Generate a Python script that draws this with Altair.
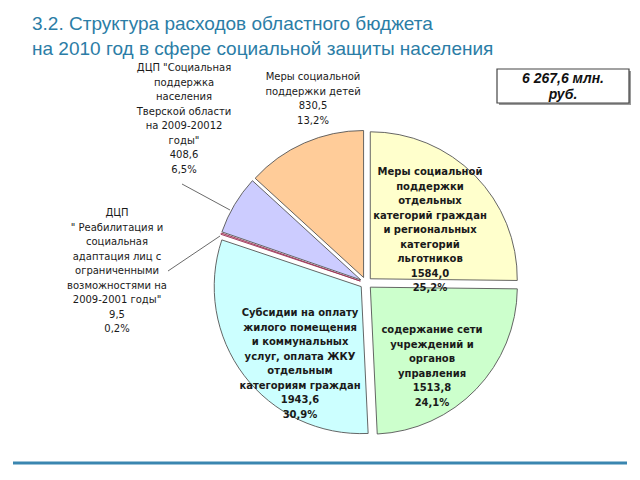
import altair as alt
import pandas as pd

# ---- data ----
categories = [
    "Меры социальной\nподдержки\nотдельных\nкатегорий граждан\nи региональных\nкатегорий\nльготников",
    "содержание сети\nучреждений и\nорганов\nуправления",
    "Субсидии на оплату\nжилого помещения\nи коммунальных\nуслуг, оплата ЖКУ\nотдельным\nкатегориям граждан",
    "ДЦП\n\" Реабилитация и\nсоциальная\nадаптация лиц с\nограниченными\nвозможностями на\n2009-2001 годы\"",
    "ДЦП \"Социальная\nподдержка\nнаселения\nТверской области\nна 2009-20012\nгоды\"",
    "Меры социальной\nподдержки детей",
]
values = [1584.0, 1513.8, 1943.6, 9.5, 408.6, 830.5]
value_labels = ["1584,0", "1513,8", "1943,6", "9,5", "408,6", "830,5"]
percents = ["25,2%", "24,1%", "30,9%", "0,2%", "6,5%", "13,2%"]
total_label = ["6 267,6 млн.", "руб."]
title_lines = ["3.2. Структура расходов областного бюджета",
               "на 2010 год в сфере социальной защиты населения"]

# ---- styles / layout ----
fills = ["#FFFFCC", "#CCFFCC", "#CCFFFF", "#E8A8C0", "#CCCCFF", "#FFCC99"]
strokes = ["#555555", "#555555", "#555555", "#993355", "#555555", "#555555"]
CX, CY, R, D = 366, 283, 147, 6
# label anchor (x centre, y of first line) and bold flag, in slice order
label_pos = [(430, 172, True), (432, 330, True), (300, 313, True),
             (117, 213, False), (184, 68, False), (313, 77, False)]

df = pd.DataFrame({"order": list(range(len(values))), "cat": categories, "value": values})

pie = (
    alt.Chart(df)
    .transform_joinaggregate(total="sum(value)")
    .transform_window(cum="sum(value)", sort=[alt.SortField("order")], frame=[None, 0])
    .transform_calculate(a1="datum.cum / datum.total * 2 * PI")
    .transform_calculate(a0="(datum.cum - datum.value) / datum.total * 2 * PI")
    .transform_calculate(mid="(datum.a0 + datum.a1) / 2")
    .transform_calculate(cx=f"{CX} + {D} * sin(datum.mid)")
    .transform_calculate(cy=f"{CY} - {D} * cos(datum.mid)")
    .mark_arc(outerRadius=R, strokeWidth=0.9)
    .encode(
        theta=alt.Theta("a0:Q", scale=None),
        theta2="a1:Q",
        x=alt.X("cx:Q", scale=None, axis=None),
        y=alt.Y("cy:Q", scale=None, axis=None),
        fill=alt.Fill("cat:N", scale=alt.Scale(domain=categories, range=fills), legend=None),
        stroke=alt.Stroke("cat:N", scale=alt.Scale(domain=categories, range=strokes), legend=None),
        order=alt.Order("order:Q"),
    )
)

layers = [pie]

# slice labels
for i, (lx, ly, bold) in enumerate(label_pos):
    txt = categories[i] + "\n" + value_labels[i] + "\n" + percents[i]
    layers.append(
        alt.Chart(pd.DataFrame({"t": [txt]}))
        .mark_text(
            lineBreak="\n", align="center", baseline="middle",
            font="DejaVu Sans", fontSize=10, lineHeight=14.5,
            fontWeight="bold" if bold else "normal", color="#1a1a1a",
        )
        .encode(x=alt.value(lx), y=alt.value(ly), text="t:N")
    )

# leader lines for outside labels
for (x1, y1, x2, y2) in [(182, 184, 230, 210), (168, 271, 220, 236)]:
    layers.append(
        alt.Chart(pd.DataFrame({"a": [0]}))
        .mark_rule(color="#444444", strokeWidth=0.8)
        .encode(x=alt.value(x1), y=alt.value(y1), x2=alt.value(x2), y2=alt.value(y2))
    )

# title
for j, line in enumerate(title_lines):
    layers.append(
        alt.Chart(pd.DataFrame({"t": [line]}))
        .mark_text(align="left", baseline="alphabetic", font="Liberation Sans",
                   fontSize=19, color="#2B7DA6")
        .encode(x=alt.value(32), y=alt.value(30 + j * 25), text="t:N")
    )

# total box with shadow
layers.append(
    alt.Chart(pd.DataFrame({"a": [0]}))
    .mark_rect(fill="#9a9a9a")
    .encode(x=alt.value(499), x2=alt.value(631), y=alt.value(71), y2=alt.value(105))
)
layers.append(
    alt.Chart(pd.DataFrame({"a": [0]}))
    .mark_rect(fill="white", stroke="#444444", strokeWidth=1.2)
    .encode(x=alt.value(497), x2=alt.value(629), y=alt.value(69), y2=alt.value(103))
)
layers.append(
    alt.Chart(pd.DataFrame({"t": ["\n".join(total_label)]}))
    .mark_text(lineBreak="\n", align="center", baseline="middle", font="Liberation Sans",
               fontSize=14, fontWeight="bold", fontStyle="italic", lineHeight=16, color="#111111")
    .encode(x=alt.value(563), y=alt.value(79), text="t:N")
)

# bottom rule
layers.append(
    alt.Chart(pd.DataFrame({"a": [0]}))
    .mark_rule(color="#3A86B0", strokeWidth=3)
    .encode(x=alt.value(13), x2=alt.value(627), y=alt.value(463))
)

chart = (
    alt.layer(*layers)
    .properties(width=640, height=480, padding=0,
                autosize=alt.AutoSizeParams(type="none"), background="white")
    .configure_view(stroke=None)
)

chart.save("out.html", embed_options={"renderer": "svg", "actions": False})
